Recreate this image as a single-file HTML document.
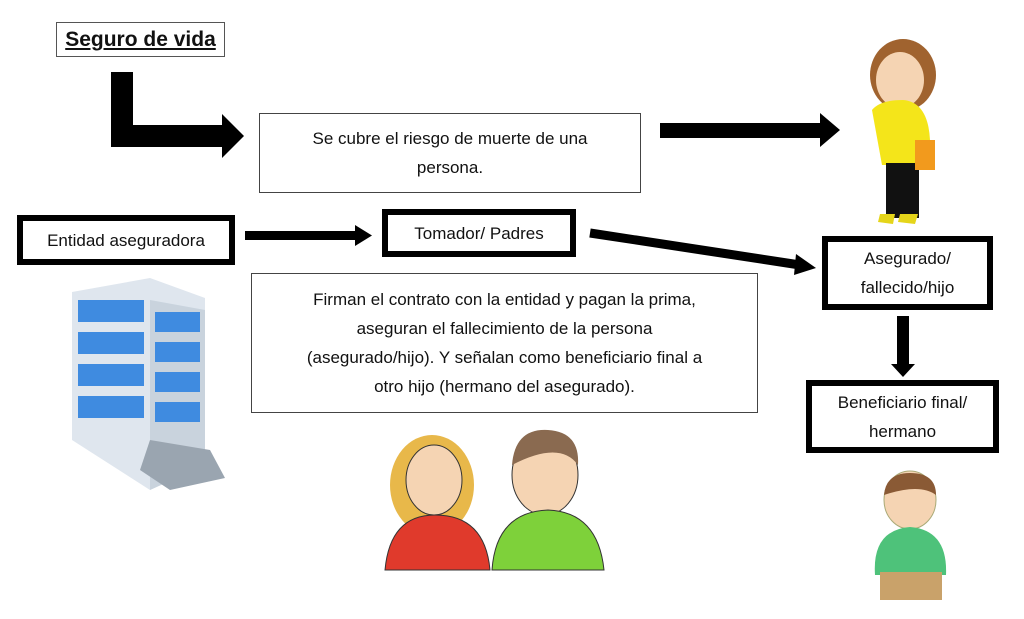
<!DOCTYPE html>
<html><head><meta charset="utf-8"><style>
body{margin:0;width:1024px;height:619px;background:#fff;position:relative;overflow:hidden;font-family:"Liberation Sans",sans-serif;color:#111}
.b{position:absolute;box-sizing:border-box;background:#fff;text-align:center;display:flex;align-items:center;justify-content:center;font-size:17px;line-height:29px}
.thin{border:1.5px solid #444}
.thick{border:6px solid #000}
svg{position:absolute;left:0;top:0}
</style></head><body>
<svg width="1024" height="619">
<!-- L arrow -->
<path d="M111 72 H133 V125 H222 V114 L244 136 L222 158 V147 H111 Z" fill="#000"/>
<!-- right arrow top -->
<path d="M660 123 H820 V113 L840 130 L820 147 V138 H660 Z" fill="#000"/>
<!-- entidad -> tomador -->
<path d="M245 231 H355 V225 L372 235.5 L355 246 V240 H245 Z" fill="#000"/>
<!-- tomador -> asegurado -->
<line x1="590" y1="233" x2="800" y2="265" stroke="#000" stroke-width="9"/>
<path d="M796 254 L816 268 L794 275 Z" fill="#000"/>
<!-- down arrow -->
<path d="M897 316 H909 V364 H915 L903 377 L891 364 H897 Z" fill="#000"/>
<!-- building -->
<g>
<polygon points="72,292 150,278 205,298 205,465 150,490 72,440" fill="#dfe6ee"/>
<polygon points="150,300 205,310 205,465 150,490" fill="#c9d3dd"/>
<g fill="#3f8be0">
<rect x="78" y="300" width="66" height="22"/><rect x="78" y="332" width="66" height="22"/><rect x="78" y="364" width="66" height="22"/><rect x="78" y="396" width="66" height="22"/>
<rect x="155" y="312" width="45" height="20"/><rect x="155" y="342" width="45" height="20"/><rect x="155" y="372" width="45" height="20"/><rect x="155" y="402" width="45" height="20"/>
</g>
<polygon points="150,440 210,450 225,478 170,490 140,470" fill="#9aa5b0"/>
</g>
<!-- parents -->
<g>
<ellipse cx="432" cy="485" rx="42" ry="50" fill="#e8b84a"/>
<ellipse cx="434" cy="480" rx="28" ry="35" fill="#f5d4b3" stroke="#333"/>
<path d="M385 570 Q390 515 435 515 Q485 515 490 570 Z" fill="#e03a2c" stroke="#333"/>
<ellipse cx="545" cy="475" rx="33" ry="40" fill="#f5d4b3" stroke="#333"/>
<path d="M512 465 Q515 428 548 430 Q580 432 578 465 Q560 440 512 465Z" fill="#8a6a50"/>
<path d="M492 570 Q496 512 548 510 Q598 512 604 570 Z" fill="#7ed13a" stroke="#333"/>
</g>
<!-- girl -->
<g>
<ellipse cx="903" cy="75" rx="33" ry="36" fill="#a0632f"/>
<ellipse cx="900" cy="80" rx="24" ry="28" fill="#f5d4b3"/>
<path d="M872 110 Q880 100 903 100 Q928 102 930 140 L925 165 H882 Z" fill="#f4e51a"/>
<rect x="886" y="163" width="33" height="55" fill="#111"/>
<rect x="915" y="140" width="20" height="30" fill="#f29a1d"/>
<path d="M880 214 L895 214 L893 224 L878 222Z M900 214 L918 214 L915 224 L898 222Z" fill="#e5d51a"/>
</g>
<!-- boy -->
<g>
<ellipse cx="910" cy="500" rx="26" ry="29" fill="#f5d4b3" stroke="#aa7"/>
<path d="M884 495 Q886 473 910 473 Q936 473 936 495 Q920 483 884 495Z" fill="#8a5a35"/>
<path d="M875 575 Q872 530 910 527 Q948 530 946 575 Z" fill="#4ec27a"/>
<rect x="880" y="572" width="62" height="28" fill="#c9a26a"/>
</g>
</svg>
<div class="b" style="left:56px;top:22px;width:169px;height:35px;border:1px solid #555;font-weight:bold;font-size:21px;text-decoration:underline">Seguro de vida</div>
<div class="b thin" style="left:259px;top:113px;width:382px;height:80px">Se cubre el riesgo de muerte de una<br>persona.</div>
<div class="b thick" style="left:17px;top:215px;width:218px;height:50px">Entidad aseguradora</div>
<div class="b thick" style="left:382px;top:209px;width:194px;height:48px">Tomador/ Padres</div>
<div class="b thin" style="left:251px;top:273px;width:507px;height:140px">Firman el contrato con la entidad y pagan la prima,<br>aseguran el fallecimiento de la persona<br>(asegurado/hijo). Y señalan como beneficiario final a<br>otro hijo (hermano del asegurado).</div>
<div class="b thick" style="left:822px;top:236px;width:171px;height:74px">Asegurado/<br>fallecido/hijo</div>
<div class="b thick" style="left:806px;top:380px;width:193px;height:73px">Beneficiario final/<br>hermano</div>
</body></html>
